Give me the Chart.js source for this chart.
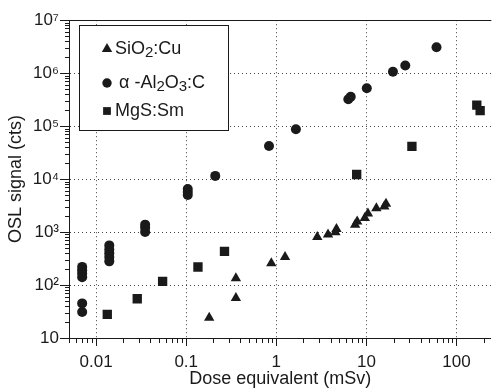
<!DOCTYPE html>
<html>
<head>
<meta charset="utf-8">
<script src="https://cdn.jsdelivr.net/npm/chart.js@4.4.1/dist/chart.umd.min.js"></script>
<style>
  html, body { margin: 0; padding: 0; background: #fff; }
  #wrap { width: 498px; height: 388px; }
</style>
</head>
<body>
<div id="wrap"><canvas id="chart"></canvas></div>
<script>
// dose equivalent (mSv) vs OSL signal (cts)
const sioDose   = [0.18, 0.356, 0.356, 0.88, 1.25, 2.85, 3.75, 4.53, 4.65, 7.5, 7.9, 9.6, 10.4, 12.9, 15.8, 16.5];
const sioSignal = [24, 57, 135, 258, 338, 810, 900, 990, 1140, 1380, 1590, 1840, 2250, 2830, 3040, 3410];

const aloDose   = [0.007, 0.007, 0.007, 0.007, 0.007, 0.007, 0.014, 0.014, 0.014, 0.014, 0.014,
                   0.035, 0.035, 0.035, 0.104, 0.104, 0.104, 0.21, 0.83, 1.65, 6.3, 6.7, 10.1, 19.7, 27, 60];
const aloSignal = [220, 190, 165, 140, 45, 31, 560, 470, 400, 340, 280,
                   1380, 1200, 1000, 6500, 5700, 5000, 11500, 42000, 87500, 323000, 358000, 519000, 1060000, 1400000, 3080000];

const mgsDose   = [0.0133, 0.0286, 0.0547, 0.135, 0.266, 7.8, 32, 168, 183];
const mgsSignal = [28, 55, 117, 219, 431, 12200, 41500, 250000, 196000];

const xTickValues = [0.01, 0.1, 1, 10, 100];
const xTickLabels = ['0.01', '0.1', '1', '10', '100'];
const yTickValues = [10, 1e2, 1e3, 1e4, 1e5, 1e6, 1e7];
const yTickLabels = ['10', '10²', '10³', '10⁴', '10⁵', '10⁶', '10⁷'];

const FONT = '"Liberation Sans", Arial, Helvetica, sans-serif';
const INK = '#1a1a1a';
const X_MIN = 0.005, X_MAX = 244;

function toPoints(xs, ys) {
    return xs.map((x, i) => ({ x: x, y: ys[i] }));
}

// decade ticks from the arrays plus the 2..9 minors in between
function withMinors(majors, min, max) {
    const out = [];
    [majors[0] / 10].concat(majors).forEach(m => {
        for (let k = 1; k < 10; k++) {
            const v = k === 1 ? m : +(k * m).toPrecision(6);
            if (v >= min && v <= max) out.push(v);
        }
    });
    return out;
}

function labelFor(values, labels, v) {
    const i = values.indexOf(v);
    return i < 0 ? '' : labels[i];
}

function drawMarker(ctx, style, x, y, r) {
    ctx.beginPath();
    if (style === 'triangle') {
        ctx.moveTo(x, y - r);
        ctx.lineTo(x + r * 0.866, y + r * 0.5);
        ctx.lineTo(x - r * 0.866, y + r * 0.5);
    } else if (style === 'rect') {
        const s = r * Math.SQRT1_2;
        ctx.rect(x - s, y - s, 2 * s, 2 * s);
    } else {
        ctx.arc(x, y, r, 0, Math.PI * 2);
    }
    ctx.closePath();
    ctx.fill();
}

// subscript digits drawn lowered
const SUBS = { '₂': '2', '₃': '3' };
function drawLabel(ctx, text, x, y) {
    ctx.textBaseline = 'middle';
    ctx.textAlign = 'left';
    for (const ch of text) {
        const sub = SUBS[ch];
        const s = sub || ch;
        ctx.font = (sub ? 15 : 18) + 'px ' + FONT;
        ctx.fillText(s, x, sub ? y + 4 : y);
        x += ctx.measureText(s).width;
    }
}

const tickMarks = {
    id: 'tickMarks',
    afterDraw(chart) {
        const ctx = chart.ctx;
        const area = chart.chartArea;
        const xs = chart.scales.x, ys = chart.scales.y;
        ctx.save();
        ctx.strokeStyle = INK;
        ctx.lineWidth = 1;
        ctx.beginPath();
        xs.ticks.forEach(t => {
            const px = Math.round(xs.getPixelForValue(t.value)) + 0.5;
            const len = xTickValues.includes(t.value) ? 8 : 5;
            ctx.moveTo(px, area.bottom);
            ctx.lineTo(px, area.bottom + len);
        });
        ys.ticks.forEach(t => {
            const py = Math.round(ys.getPixelForValue(t.value)) + 0.5;
            const len = yTickValues.includes(t.value) ? 9 : 4;
            ctx.moveTo(area.left - len, py);
            ctx.lineTo(area.left, py);
        });
        // top edge of the frame
        ctx.moveTo(area.left, Math.round(area.top) + 0.5);
        ctx.lineTo(area.right, Math.round(area.top) + 0.5);
        ctx.stroke();
        ctx.restore();
    }
};

const boxLegend = {
    id: 'boxLegend',
    afterDraw(chart) {
        const ctx = chart.ctx;
        const a = chart.chartArea;
        const left = Math.round(a.left) + 10, top = Math.round(a.top) + 5;
        const w = 149, h = 105;
        ctx.save();
        ctx.fillStyle = '#fff';
        ctx.fillRect(left, top, w, h);
        ctx.strokeStyle = INK;
        ctx.lineWidth = 1;
        ctx.strokeRect(left + 0.5, top + 0.5, w, h);
        const rows = [24, 58, 86];
        ctx.fillStyle = INK;
        chart.data.datasets.forEach((ds, i) => {
            const y = top + rows[i];
            drawMarker(ctx, ds.pointStyle, left + 28, y, ds.legendRadius);
            drawLabel(ctx, ds.label, left + (i === 1 ? 40 : 36), y);
        });
        ctx.restore();
    }
};

new Chart(document.getElementById('chart'), {
    type: 'scatter',
    data: {
        datasets: [
            { label: 'SiO₂:Cu', data: toPoints(sioDose, sioSignal), pointStyle: 'triangle',
              pointRadius: 6, legendRadius: 6, backgroundColor: INK, borderWidth: 0 },
            { label: 'α -Al₂O₃:C', data: toPoints(aloDose, aloSignal), pointStyle: 'circle',
              pointRadius: 5, legendRadius: 4.7, backgroundColor: INK, borderWidth: 0 },
            { label: 'MgS:Sm', data: toPoints(mgsDose, mgsSignal), pointStyle: 'rect',
              pointRadius: 6.6, legendRadius: 5.5, backgroundColor: INK, borderWidth: 0 }
        ]
    },
    options: {
        responsive: true,
        maintainAspectRatio: false,
        animation: false,
        events: [],
        layout: { padding: { top: 16, right: 0, left: 0, bottom: 0 } },
        plugins: { legend: { display: false }, tooltip: { enabled: false } },
        scales: {
            x: {
                type: 'logarithmic',
                position: 'bottom',
                min: X_MIN,
                max: X_MAX,
                afterBuildTicks: s => { s.ticks = withMinors(xTickValues, X_MIN, X_MAX).map(v => ({ value: v })); },
                afterFit: s => { s.height = 50; },
                ticks: {
                    autoSkip: false, maxRotation: 0, padding: 14, color: INK,
                    font: { family: FONT, size: 17 },
                    callback: v => labelFor(xTickValues, xTickLabels, v)
                },
                grid: {
                    drawTicks: false,
                    color: '#444',
                    lineWidth: c => (c.tick && xTickValues.includes(c.tick.value)) ? 1 : 0
                },
                border: { display: true, color: INK, width: 1, dash: [1, 3] },
                title: {
                    display: true, text: 'Dose equivalent (mSv)', color: INK,
                    font: { family: FONT, size: 18, lineHeight: 1 },
                    padding: { top: 0, bottom: 0 }
                }
            },
            y: {
                type: 'logarithmic',
                position: 'left',
                min: 10,
                max: 1e7,
                afterBuildTicks: s => { s.ticks = withMinors(yTickValues, 10, 1e7).map(v => ({ value: v })); },
                afterFit: s => { s.width = 69; },
                ticks: {
                    autoSkip: false, padding: 10, color: INK,
                    font: { family: FONT, size: 17 },
                    callback: v => labelFor(yTickValues, yTickLabels, v)
                },
                grid: {
                    drawTicks: false,
                    color: '#444',
                    lineWidth: c => (c.tick && yTickValues.includes(c.tick.value)) ? 1 : 0
                },
                border: { display: true, color: INK, width: 1, dash: [1, 3] },
                title: {
                    display: true, text: 'OSL signal (cts)', color: INK,
                    font: { family: FONT, size: 18 },
                    padding: { top: 5, bottom: 0 }
                }
            }
        }
    },
    plugins: [tickMarks, boxLegend]
});
</script>
</body>
</html>
